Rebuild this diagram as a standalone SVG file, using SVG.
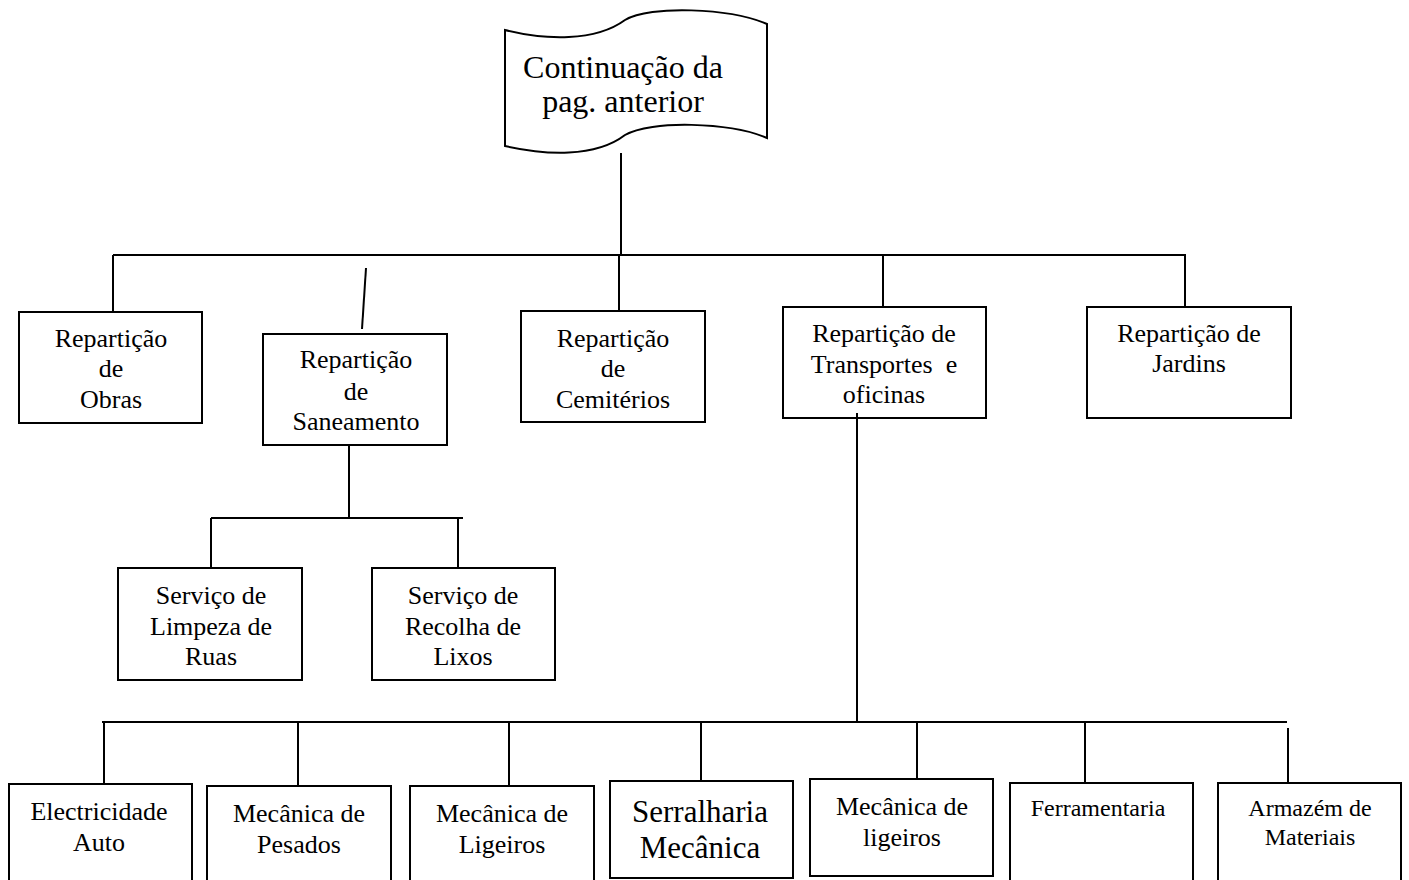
<svg xmlns="http://www.w3.org/2000/svg" width="1409" height="880" viewBox="0 0 1409 880">
<style>
.bx{fill:#fff;stroke:#000;stroke-width:2}
.ln{stroke:#000;stroke-width:2;fill:none}
text{font-family:"Liberation Serif","Times New Roman",serif;fill:#000;text-anchor:middle}
.t26{font-size:26px}
.t24{font-size:24px}
.t31{font-size:31px}
.t32{font-size:32px}
</style>
<rect width="1409" height="880" fill="#fff"/>
<g id="banner">
<path class="bx" d="M505,30 C545,40 595,42 625,20 C650,5 730,8 767,24 L767,138 C730,122 650,120 625,135 C595,158 545,155 505,146 Z"/>
<text class="t32" x="623" y="78">Continuação da</text>
<text class="t32" x="623" y="112">pag. anterior</text>
</g>
<g id="obras">
<rect class="bx" x="19" y="312" width="183" height="111"/>
<text class="t26" x="111" y="347">Repartição</text>
<text class="t26" x="111" y="377">de</text>
<text class="t26" x="111" y="408">Obras</text>
</g>
<g id="saneamento">
<rect class="bx" x="263" y="334" width="184" height="111"/>
<text class="t26" x="356" y="368">Repartição</text>
<text class="t26" x="356" y="400">de</text>
<text class="t26" x="356" y="430">Saneamento</text>
</g>
<g id="cemiterios">
<rect class="bx" x="521" y="311" width="184" height="111"/>
<text class="t26" x="613" y="347">Repartição</text>
<text class="t26" x="613" y="377">de</text>
<text class="t26" x="613" y="408">Cemitérios</text>
</g>
<g id="transportes">
<rect class="bx" x="783" y="307" width="203" height="111"/>
<text class="t26" x="884" y="342">Repartição de</text>
<text class="t26" x="884" y="373" xml:space="preserve">Transportes  e</text>
<text class="t26" x="884" y="403">oficinas</text>
</g>
<g id="jardins">
<rect class="bx" x="1087" y="307" width="204" height="111"/>
<text class="t26" x="1189" y="342">Repartição de</text>
<text class="t26" x="1189" y="372">Jardins</text>
</g>
<g id="limpeza">
<rect class="bx" x="118" y="568" width="184" height="112"/>
<text class="t26" x="211" y="604">Serviço de</text>
<text class="t26" x="211" y="635">Limpeza de</text>
<text class="t26" x="211" y="665">Ruas</text>
</g>
<g id="recolha">
<rect class="bx" x="372" y="568" width="183" height="112"/>
<text class="t26" x="463" y="604">Serviço de</text>
<text class="t26" x="463" y="635">Recolha de</text>
<text class="t26" x="463" y="665">Lixos</text>
</g>
<g id="electricidade">
<rect class="bx" x="9" y="784" width="183" height="100"/>
<text class="t26" x="99" y="820">Electricidade</text>
<text class="t26" x="99" y="851">Auto</text>
</g>
<g id="pesados">
<rect class="bx" x="207" y="786" width="184" height="100"/>
<text class="t26" x="299" y="822">Mecânica de</text>
<text class="t26" x="299" y="853">Pesados</text>
</g>
<g id="ligeiros">
<rect class="bx" x="410" y="786" width="184" height="100"/>
<text class="t26" x="502" y="822">Mecânica de</text>
<text class="t26" x="502" y="853">Ligeiros</text>
</g>
<g id="serralharia">
<rect class="bx" x="610" y="781" width="183" height="97"/>
<text class="t31" x="700" y="822">Serralharia</text>
<text class="t31" x="700" y="858">Mecânica</text>
</g>
<g id="ligeiros2">
<rect class="bx" x="810" y="779" width="183" height="97"/>
<text class="t26" x="902" y="815">Mecânica de</text>
<text class="t26" x="902" y="846">ligeiros</text>
</g>
<g id="ferramentaria">
<rect class="bx" x="1010" y="783" width="183" height="100"/>
<text class="t24" x="1098" y="816">Ferramentaria</text>
</g>
<g id="armazem">
<rect class="bx" x="1218" y="783" width="183" height="100"/>
<text class="t24" x="1310" y="816">Armazém de</text>
<text class="t24" x="1310" y="845">Materiais</text>
</g>
<g id="connectors" class="ln">
<line x1="621" y1="153" x2="621" y2="255"/>
<line x1="113" y1="255" x2="1186" y2="255"/>
<line x1="113" y1="255" x2="113" y2="312"/>
<line x1="366" y1="268" x2="362" y2="329"/>
<line x1="619" y1="255" x2="619" y2="311"/>
<line x1="883" y1="255" x2="883" y2="308"/>
<line x1="1185" y1="255" x2="1185" y2="307"/>
<line x1="349" y1="445" x2="349" y2="518"/>
<line x1="211" y1="518" x2="463" y2="518"/>
<line x1="211" y1="518" x2="211" y2="568"/>
<line x1="458" y1="518" x2="458" y2="568"/>
<line x1="857" y1="413" x2="857" y2="722"/>
<line x1="102" y1="722" x2="1287" y2="722"/>
<line x1="104" y1="722" x2="104" y2="784"/>
<line x1="298" y1="722" x2="298" y2="786"/>
<line x1="509" y1="722" x2="509" y2="786"/>
<line x1="701" y1="722" x2="701" y2="781"/>
<line x1="917" y1="722" x2="917" y2="779"/>
<line x1="1085" y1="722" x2="1085" y2="782"/>
<line x1="1288" y1="728" x2="1288" y2="782"/>
</g>
</svg>
